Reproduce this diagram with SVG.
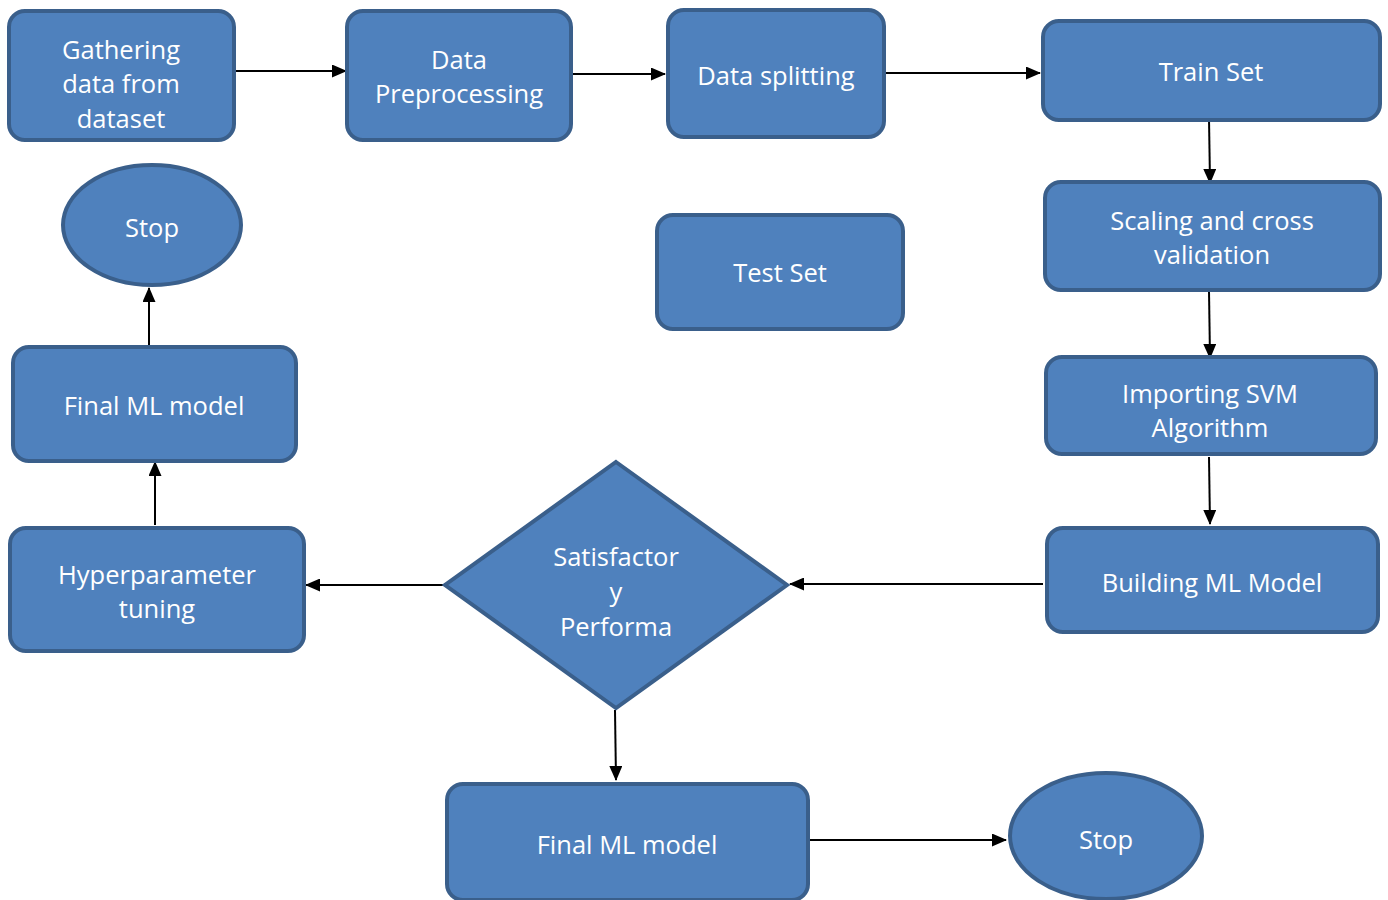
<svg xmlns="http://www.w3.org/2000/svg" width="1388" height="900" viewBox="0 0 1388 900">
<defs>
<style>
.n{fill:#4F81BD;stroke:#3A5F8B;stroke-width:4}
.t{font-family:"Open Sans","Liberation Sans",sans-serif;font-size:25.5px;fill:#FFFFFF;text-anchor:middle}
.c{stroke:#000;stroke-width:2;fill:none;marker-end:url(#ah)}
</style>
<marker id="ah" viewBox="0 0 15 13" refX="14" refY="6.5" markerWidth="15" markerHeight="13" markerUnits="userSpaceOnUse" orient="auto">
<path d="M0,0 L15,6.5 L0,13 Z" fill="#000"/>
</marker>
</defs>
<rect width="1388" height="900" fill="#fff"/>
<g id="connectors">
<line class="c" x1="234" y1="71" x2="346" y2="71"/>
<line class="c" x1="573" y1="74" x2="665" y2="74"/>
<line class="c" x1="885" y1="73" x2="1040" y2="73"/>
<line class="c" x1="1209" y1="118" x2="1210" y2="183"/>
<line class="c" x1="1209" y1="291" x2="1210" y2="358"/>
<line class="c" x1="1209" y1="457" x2="1210" y2="524"/>
<line class="c" x1="1043" y1="584" x2="790" y2="584"/>
<line class="c" x1="444" y1="585" x2="306" y2="585"/>
<line class="c" x1="155" y1="525" x2="155" y2="462"/>
<line class="c" x1="149" y1="348" x2="149" y2="288"/>
<line class="c" x1="615" y1="710" x2="616" y2="780"/>
<line class="c" x1="809" y1="840" x2="1006" y2="840"/>
</g>
<g id="gathering"><rect class="n" x="9" y="11" width="225" height="129" rx="16"/>
<text class="t" x="121" y="59">Gathering</text><text class="t" x="121" y="93">data from</text><text class="t" x="121" y="128">dataset</text></g>
<g id="preprocessing"><rect class="n" x="347" y="11" width="224" height="129" rx="16"/>
<text class="t" x="459" y="69">Data</text><text class="t" x="459" y="103">Preprocessing</text></g>
<g id="splitting"><rect class="n" x="668" y="10" width="216" height="127" rx="16"/>
<text class="t" x="776" y="85">Data splitting</text></g>
<g id="train"><rect class="n" x="1043" y="21" width="337" height="99" rx="16"/>
<text class="t" x="1211" y="81">Train Set</text></g>
<g id="scaling"><rect class="n" x="1045" y="182" width="335" height="108" rx="16"/>
<text class="t" x="1212" y="230">Scaling and cross</text><text class="t" x="1212" y="264">validation</text></g>
<g id="testset"><rect class="n" x="657" y="215" width="246" height="114" rx="16"/>
<text class="t" x="780" y="282">Test Set</text></g>
<g id="stop1"><ellipse class="n" cx="152" cy="225" rx="89" ry="60"/>
<text class="t" x="152" y="237">Stop</text></g>
<g id="final1"><rect class="n" x="13" y="347" width="283" height="114" rx="16"/>
<text class="t" x="154" y="415">Final ML model</text></g>
<g id="svm"><rect class="n" x="1046" y="357" width="330" height="97" rx="16"/>
<text class="t" x="1210" y="403">Importing SVM</text><text class="t" x="1210" y="437">Algorithm</text></g>
<g id="hyper"><rect class="n" x="10" y="528" width="294" height="123" rx="16"/>
<text class="t" x="157" y="584">Hyperparameter</text><text class="t" x="157" y="618">tuning</text></g>
<g id="decision"><polygon class="n" points="616,462 787,585 616,708 445,585"/>
<text class="t" x="616" y="566">Satisfactor</text><text class="t" x="616" y="601">y</text><text class="t" x="616" y="636">Performa</text></g>
<g id="building"><rect class="n" x="1047" y="528" width="331" height="104" rx="16"/>
<text class="t" x="1212" y="592">Building ML Model</text></g>
<g id="final2"><rect class="n" x="447" y="784" width="361" height="116" rx="16"/>
<text class="t" x="627" y="854">Final ML model</text></g>
<g id="stop2"><ellipse class="n" cx="1106" cy="836" rx="96" ry="63"/>
<text class="t" x="1106" y="849">Stop</text></g>
</svg>
